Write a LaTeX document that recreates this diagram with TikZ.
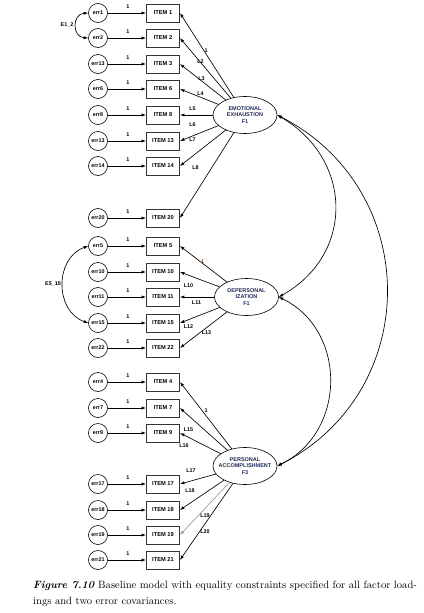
\documentclass[tikz,border=0pt]{standalone}
\usepackage{fontspec}
\setsansfont{Liberation Sans}
\usetikzlibrary{arrows.meta,shapes.geometric}
\definecolor{fac}{HTML}{1F2A5A}
\definecolor{onebrown}{HTML}{7A3A1A}
\begin{document}
\begin{tikzpicture}[x=1pt,y=-1pt,
  err/.style={circle,draw,line width=0.6pt,minimum size=19pt,inner sep=0pt,font=\sffamily\bfseries\fontsize{5.4}{6}\selectfont},
  itembox/.style={rectangle,draw=black!80,line width=0.9pt,minimum width=33pt,minimum height=18pt,inner sep=0pt,font=\sffamily\bfseries\fontsize{5.7}{7}\selectfont},
  factor/.style={ellipse,draw,line width=0.6pt,minimum width=64pt,minimum height=37pt,inner sep=0pt},
  factxt/.style={align=center,inner sep=0pt,text=fac,font=\sffamily\bfseries\fontsize{5.5}{6.7}\selectfont},
  lab/.style={font=\sffamily\bfseries\fontsize{5.4}{6}\selectfont,inner sep=0pt},
  arr/.style={-{Latex[length=4.5pt,width=3.2pt]},line width=0.65pt},
  cov/.style={{Latex[length=4.5pt,width=3.2pt]}-{Latex[length=4.5pt,width=3.2pt]},line width=0.65pt},
]
\useasboundingbox (0,0) rectangle (423,613);

% error terms and items
\foreach \r/\el/\il/\yy in {a/1/1/13, b/2/2/38, c/13/3/64, d/6/6/89, e/8/8/115, f/13/13/141, g/14/14/166, h/20/20/218,
  i/5/5/246, j/10/10/272, k/11/11/297, l/15/15/323, m/22/22/348,
  n/4/4/382, o/7/7/408, p/9/9/433, q/17/17/484, r/18/18/510, s/19/19/535, t/21/21/560}
{
  \node[err] (e\r) at (98,\yy) {err\el};
  \node[itembox] (i\r) at (163,\yy) {ITEM \il};
  \draw[arr] (e\r) -- (i\r);
  \node[lab] (one\r) at (128,\yy-6.5) {1};
}

% factors
\node[factor] (F1) at (245,115) {};
\node[factxt] (F1t) at (F1) {EMOTIONAL\\EXHAUSTION\\F1};
\node[factor] (F2) at (246.5,297) {};
\node[factxt] (F2t) at (F2) {DEPERSONAL\\IZATION\\F1};
\node[factor] (F3) at (245,466) {};
\node[factxt] (F3t) at (F3) {PERSONAL\\ACCOMPLISHMENT\\F3};

% loadings
\foreach \r in {a,b,c,d,e,f,g,h} \draw[arr] (F1) -- (i\r.east);
\foreach \r in {i,j,k,l,m} \draw[arr] (F2) -- (i\r.east);
\foreach \r in {n,o,p,q,r,t} \draw[arr] (F3) -- (i\r.east);
\draw[arr,draw=black!40] (F3) -- (is.east);

% loading labels
\node[lab] (la) at (206,51) {1};
\node[lab] (lb) at (200.5,62) {L2};
\node[lab] (lc) at (201.5,79) {L3};
\node[lab] (ld) at (200.5,94) {L4};
\node[lab] (le) at (192.5,109) {L5};
\node[lab] (lf) at (192.5,125) {L6};
\node[lab] (lg) at (192.5,140) {L7};
\node[lab] (lh) at (195.5,168) {L8};
\node[lab,text=onebrown] (li) at (202.5,261.5) {1};
\node[lab] (lj) at (188.5,285.5) {L10};
\node[lab] (lk) at (196.5,302.5) {L11};
\node[lab] (ll) at (188.5,326.5) {L12};
\node[lab] (lm) at (206.5,333) {L13};
\node[lab] (ln) at (206,411) {1};
\node[lab] (lo) at (188.5,430) {L15};
\node[lab] (lp) at (184,445.5) {L16};
\node[lab] (lq) at (191,470.5) {L17};
\node[lab] (lr) at (190,491) {L18};
\node[lab] (ls) at (205,515.5) {L19};
\node[lab] (lt) at (205,532) {L20};

% factor covariances
\draw[cov] (F1.east) .. controls (354,160) and (354,255) .. (F2.east);
\draw[cov] (F1.east) .. controls (423,190) and (423,392) .. (F3.east);
\draw[cov] (F2.east) .. controls (347,330) and (347,432) .. (F3.east);

% error covariances
\draw[cov] (ea.west) .. controls (72,14) and (72,37) .. (eb.west);
\node[lab] (E12) at (67,25) {E1\_2};
\draw[cov] (ei.west) .. controls (54.5,258) and (54.5,311) .. (el.west);
\node[lab] (E515) at (53,284) {E5\_15};

% caption
\node[anchor=base west,inner sep=0pt,font=\fontsize{10.6}{12}\selectfont] (cap1) at (33,588)
  {\textbf{\textit{Figure 7.10}} Baseline model with equality constraints specified for all factor load-};
\node[anchor=base west,inner sep=0pt,font=\fontsize{10.6}{12}\selectfont] (cap2) at (33,604.5)
  {ings and two error covariances.};
\end{tikzpicture}
\end{document}
